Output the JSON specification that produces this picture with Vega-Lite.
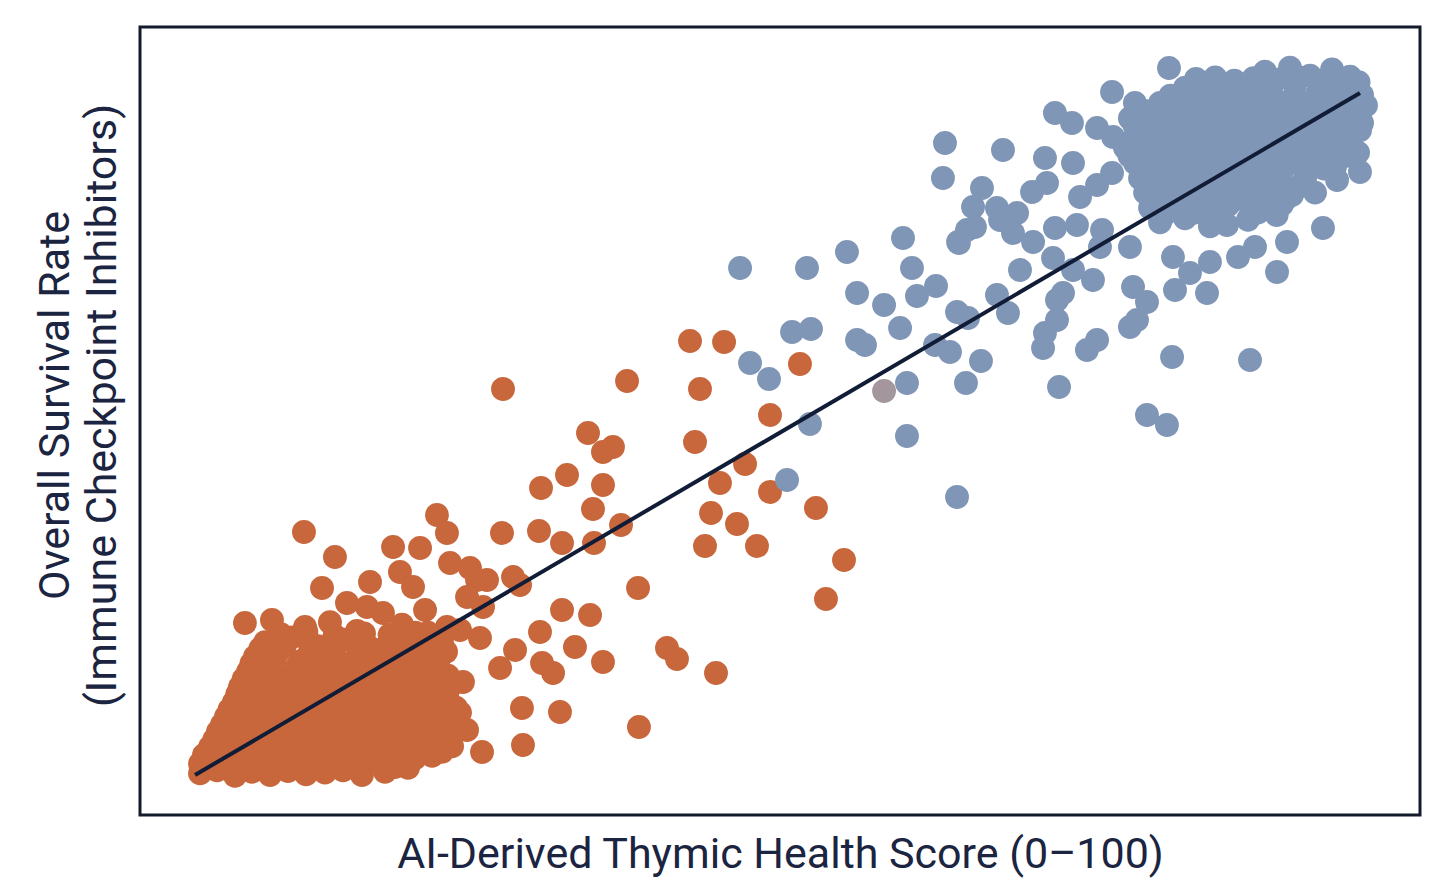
{
  "$schema": "https://vega.github.io/schema/vega-lite/v6.json",
  "width": 1280,
  "height": 788,
  "autosize": {"type": "none"},
  "padding": {"left": 140, "top": 27, "right": 36, "bottom": 77},
  "background": "#ffffff",
  "config": {
    "view": {"stroke": "#121a2c", "strokeWidth": 3},
    "font": "Roboto",
    "axis": {"grid": false, "labels": false, "ticks": false, "domain": false,
      "titleFont": "Roboto", "titleFontSize": 43, "titleFontWeight": "normal", "titleColor": "#1b2440"}
  },
  "datasets": {
    "patients": [
      {"score": 28.36, "survival": 53.25, "group": "Low"},
      {"score": 38.05, "survival": 54.25, "group": "Low"},
      {"score": 42.97, "survival": 59.25, "group": "Low"},
      {"score": 45.63, "survival": 59.13, "group": "Low"},
      {"score": 43.75, "survival": 53.25, "group": "Low"},
      {"score": 51.56, "survival": 56.38, "group": "Low"},
      {"score": 49.22, "survival": 50.0, "group": "Low"},
      {"score": 35.0, "survival": 47.75, "group": "Low"},
      {"score": 36.17, "survival": 45.38, "group": "Low"},
      {"score": 36.95, "survival": 46.0, "group": "Low"},
      {"score": 43.36, "survival": 46.63, "group": "Low"},
      {"score": 31.33, "survival": 40.88, "group": "Low"},
      {"score": 33.36, "survival": 42.5, "group": "Low"},
      {"score": 36.17, "survival": 41.25, "group": "Low"},
      {"score": 45.31, "survival": 41.5, "group": "Low"},
      {"score": 47.27, "survival": 43.88, "group": "Low"},
      {"score": 49.22, "survival": 40.38, "group": "Low"},
      {"score": 35.39, "survival": 38.25, "group": "Low"},
      {"score": 52.81, "survival": 38.38, "group": "Low"},
      {"score": 44.61, "survival": 37.75, "group": "Low"},
      {"score": 46.64, "survival": 36.38, "group": "Low"},
      {"score": 28.28, "survival": 35.25, "group": "Low"},
      {"score": 31.17, "survival": 35.5, "group": "Low"},
      {"score": 32.97, "survival": 34.0, "group": "Low"},
      {"score": 35.47, "survival": 34.0, "group": "Low"},
      {"score": 37.58, "survival": 36.25, "group": "Low"},
      {"score": 44.14, "survival": 33.63, "group": "Low"},
      {"score": 48.2, "survival": 33.63, "group": "Low"},
      {"score": 55.0, "survival": 31.88, "group": "Low"},
      {"score": 29.14, "survival": 29.75, "group": "Low"},
      {"score": 29.69, "survival": 28.75, "group": "Low"},
      {"score": 27.11, "survival": 29.38, "group": "Low"},
      {"score": 38.91, "survival": 28.38, "group": "Low"},
      {"score": 53.59, "survival": 27.0, "group": "Low"},
      {"score": 32.97, "survival": 25.63, "group": "Low"},
      {"score": 35.16, "survival": 25.0, "group": "Low"},
      {"score": 12.81, "survival": 35.38, "group": "Low"},
      {"score": 23.2, "survival": 37.5, "group": "Low"},
      {"score": 23.98, "survival": 35.25, "group": "Low"},
      {"score": 15.23, "survival": 32.25, "group": "Low"},
      {"score": 19.77, "survival": 33.5, "group": "Low"},
      {"score": 21.88, "survival": 33.38, "group": "Low"},
      {"score": 20.31, "survival": 30.38, "group": "Low"},
      {"score": 21.33, "survival": 28.5, "group": "Low"},
      {"score": 17.97, "survival": 29.13, "group": "Low"},
      {"score": 14.22, "survival": 28.38, "group": "Low"},
      {"score": 24.22, "survival": 31.5, "group": "Low"},
      {"score": 25.78, "survival": 30.88, "group": "Low"},
      {"score": 26.33, "survival": 29.38, "group": "Low"},
      {"score": 25.55, "survival": 27.25, "group": "Low"},
      {"score": 16.17, "survival": 26.5, "group": "Low"},
      {"score": 17.73, "survival": 26.0, "group": "Low"},
      {"score": 18.98, "survival": 25.25, "group": "Low"},
      {"score": 22.27, "survival": 25.63, "group": "Low"},
      {"score": 26.8, "survival": 26.0, "group": "Low"},
      {"score": 31.25, "survival": 22.88, "group": "Low"},
      {"score": 33.98, "survival": 21.0, "group": "Low"},
      {"score": 36.17, "survival": 19.13, "group": "Low"},
      {"score": 8.2, "survival": 24.0, "group": "Low"},
      {"score": 10.31, "survival": 24.38, "group": "Low"},
      {"score": 26.56, "survival": 22.13, "group": "Low"},
      {"score": 29.3, "survival": 20.63, "group": "Low"},
      {"score": 31.41, "survival": 19.0, "group": "Low"},
      {"score": 32.27, "survival": 17.75, "group": "Low"},
      {"score": 28.13, "survival": 18.38, "group": "Low"},
      {"score": 25.23, "survival": 16.63, "group": "Low"},
      {"score": 29.84, "survival": 13.38, "group": "Low"},
      {"score": 32.81, "survival": 12.88, "group": "Low"},
      {"score": 29.92, "survival": 8.75, "group": "Low"},
      {"score": 26.72, "survival": 7.88, "group": "Low"},
      {"score": 25.55, "survival": 10.63, "group": "Low"},
      {"score": 41.17, "survival": 20.88, "group": "Low"},
      {"score": 41.95, "survival": 19.5, "group": "Low"},
      {"score": 45.0, "survival": 17.75, "group": "Low"},
      {"score": 38.98, "survival": 11.0, "group": "Low"},
      {"score": 25.0, "survival": 23.13, "group": "Low"},
      {"score": 23.98, "survival": 23.5, "group": "Low"},

      {"score": 4.69, "survival": 5.2, "group": "Low"},
      {"score": 6.02, "survival": 5.6, "group": "Low"},
      {"score": 7.42, "survival": 4.9, "group": "Low"},
      {"score": 8.75, "survival": 5.4, "group": "Low"},
      {"score": 10.16, "survival": 5.0, "group": "Low"},
      {"score": 11.56, "survival": 5.5, "group": "Low"},
      {"score": 12.97, "survival": 5.1, "group": "Low"},
      {"score": 14.45, "survival": 5.3, "group": "Low"},
      {"score": 15.86, "survival": 5.6, "group": "Low"},
      {"score": 17.34, "survival": 5.0, "group": "Low"},
      {"score": 19.14, "survival": 5.4, "group": "Low"},
      {"score": 20.94, "survival": 5.9, "group": "Low"},

      {"score": 4.69, "survival": 6.4, "group": "Low"},
      {"score": 5.47, "survival": 7.2, "group": "Low"},
      {"score": 6.8, "survival": 6.1, "group": "Low"},
      {"score": 8.2, "survival": 6.9, "group": "Low"},
      {"score": 9.53, "survival": 6.0, "group": "Low"},
      {"score": 10.94, "survival": 7.1, "group": "Low"},
      {"score": 12.34, "survival": 6.4, "group": "Low"},
      {"score": 13.91, "survival": 6.6, "group": "Low"},
      {"score": 15.47, "survival": 7.2, "group": "Low"},
      {"score": 16.88, "survival": 6.1, "group": "Low"},
      {"score": 18.36, "survival": 6.9, "group": "Low"},
      {"score": 19.92, "survival": 6.0, "group": "Low"},
      {"score": 21.48, "survival": 7.1, "group": "Low"},
      {"score": 22.81, "survival": 7.4, "group": "Low"},

      {"score": 5.47, "survival": 8.5, "group": "Low"},
      {"score": 6.8, "survival": 9.1, "group": "Low"},
      {"score": 8.2, "survival": 8.0, "group": "Low"},
      {"score": 9.53, "survival": 8.8, "group": "Low"},
      {"score": 10.94, "survival": 7.9, "group": "Low"},
      {"score": 12.34, "survival": 9.0, "group": "Low"},
      {"score": 13.75, "survival": 8.3, "group": "Low"},
      {"score": 15.23, "survival": 8.5, "group": "Low"},
      {"score": 16.64, "survival": 9.1, "group": "Low"},
      {"score": 18.13, "survival": 8.0, "group": "Low"},
      {"score": 19.69, "survival": 8.8, "group": "Low"},
      {"score": 21.25, "survival": 7.9, "group": "Low"},
      {"score": 22.81, "survival": 9.0, "group": "Low"},
      {"score": 24.38, "survival": 8.6, "group": "Low"},

      {"score": 6.09, "survival": 10.4, "group": "Low"},
      {"score": 7.5, "survival": 11.0, "group": "Low"},
      {"score": 8.98, "survival": 9.9, "group": "Low"},
      {"score": 10.39, "survival": 10.7, "group": "Low"},
      {"score": 11.88, "survival": 9.7, "group": "Low"},
      {"score": 13.36, "survival": 10.9, "group": "Low"},
      {"score": 14.84, "survival": 10.2, "group": "Low"},
      {"score": 16.41, "survival": 10.4, "group": "Low"},
      {"score": 17.97, "survival": 11.0, "group": "Low"},
      {"score": 19.53, "survival": 9.9, "group": "Low"},
      {"score": 21.09, "survival": 10.7, "group": "Low"},
      {"score": 22.66, "survival": 9.7, "group": "Low"},
      {"score": 24.22, "survival": 10.9, "group": "Low"},

      {"score": 6.72, "survival": 12.3, "group": "Low"},
      {"score": 8.2, "survival": 12.9, "group": "Low"},
      {"score": 9.69, "survival": 11.8, "group": "Low"},
      {"score": 11.17, "survival": 12.6, "group": "Low"},
      {"score": 12.66, "survival": 11.6, "group": "Low"},
      {"score": 14.22, "survival": 12.8, "group": "Low"},
      {"score": 15.78, "survival": 12.1, "group": "Low"},
      {"score": 17.34, "survival": 12.3, "group": "Low"},
      {"score": 18.91, "survival": 12.9, "group": "Low"},
      {"score": 20.47, "survival": 11.8, "group": "Low"},
      {"score": 22.03, "survival": 12.6, "group": "Low"},
      {"score": 23.59, "survival": 11.6, "group": "Low"},
      {"score": 25.0, "survival": 12.8, "group": "Low"},

      {"score": 7.34, "survival": 14.1, "group": "Low"},
      {"score": 8.91, "survival": 14.7, "group": "Low"},
      {"score": 10.47, "survival": 13.6, "group": "Low"},
      {"score": 12.11, "survival": 14.4, "group": "Low"},
      {"score": 13.75, "survival": 13.4, "group": "Low"},
      {"score": 15.39, "survival": 14.6, "group": "Low"},
      {"score": 17.03, "survival": 13.9, "group": "Low"},
      {"score": 18.59, "survival": 14.1, "group": "Low"},
      {"score": 20.16, "survival": 14.7, "group": "Low"},
      {"score": 21.72, "survival": 13.6, "group": "Low"},
      {"score": 23.28, "survival": 14.4, "group": "Low"},
      {"score": 24.69, "survival": 13.4, "group": "Low"},

      {"score": 7.81, "survival": 16.0, "group": "Low"},
      {"score": 9.38, "survival": 16.6, "group": "Low"},
      {"score": 11.02, "survival": 15.5, "group": "Low"},
      {"score": 12.73, "survival": 16.3, "group": "Low"},
      {"score": 14.45, "survival": 15.3, "group": "Low"},
      {"score": 16.17, "survival": 16.5, "group": "Low"},
      {"score": 17.89, "survival": 15.8, "group": "Low"},
      {"score": 19.61, "survival": 16.0, "group": "Low"},
      {"score": 21.33, "survival": 16.6, "group": "Low"},
      {"score": 23.05, "survival": 15.5, "group": "Low"},
      {"score": 24.38, "survival": 16.3, "group": "Low"},

      {"score": 8.44, "survival": 17.9, "group": "Low"},
      {"score": 10.16, "survival": 18.5, "group": "Low"},
      {"score": 11.88, "survival": 17.4, "group": "Low"},
      {"score": 13.67, "survival": 18.2, "group": "Low"},
      {"score": 15.47, "survival": 17.2, "group": "Low"},
      {"score": 17.19, "survival": 18.4, "group": "Low"},
      {"score": 18.98, "survival": 17.7, "group": "Low"},
      {"score": 20.78, "survival": 17.9, "group": "Low"},
      {"score": 22.5, "survival": 18.5, "group": "Low"},
      {"score": 24.06, "survival": 17.4, "group": "Low"},

      {"score": 8.98, "survival": 19.8, "group": "Low"},
      {"score": 10.78, "survival": 20.4, "group": "Low"},
      {"score": 12.66, "survival": 19.3, "group": "Low"},
      {"score": 14.61, "survival": 20.1, "group": "Low"},
      {"score": 16.56, "survival": 19.1, "group": "Low"},
      {"score": 18.44, "survival": 20.3, "group": "Low"},
      {"score": 20.31, "survival": 19.6, "group": "Low"},
      {"score": 22.19, "survival": 19.8, "group": "Low"},
      {"score": 23.91, "survival": 20.4, "group": "Low"},

      {"score": 9.77, "survival": 21.6, "group": "Low"},
      {"score": 11.88, "survival": 22.2, "group": "Low"},
      {"score": 13.91, "survival": 21.1, "group": "Low"},
      {"score": 15.94, "survival": 21.9, "group": "Low"},
      {"score": 17.97, "survival": 20.9, "group": "Low"},
      {"score": 20.0, "survival": 22.1, "group": "Low"},
      {"score": 21.88, "survival": 21.4, "group": "Low"},
      {"score": 23.59, "survival": 21.6, "group": "Low"},

      {"score": 12.89, "survival": 23.5, "group": "Low"},
      {"score": 14.84, "survival": 24.1, "group": "Low"},
      {"score": 16.95, "survival": 23.0, "group": "Low"},
      {"score": 20.47, "survival": 23.8, "group": "Low"},
      {"score": 22.5, "survival": 22.8, "group": "Low"},

      {"score": 5.0, "survival": 7.5, "group": "Low"},
      {"score": 6.4, "survival": 7.8, "group": "Low"},
      {"score": 7.8, "survival": 7.3, "group": "Low"},
      {"score": 9.2, "survival": 7.6, "group": "Low"},
      {"score": 10.6, "survival": 7.2, "group": "Low"},
      {"score": 12.0, "survival": 7.7, "group": "Low"},
      {"score": 13.4, "survival": 7.4, "group": "Low"},
      {"score": 14.9, "survival": 7.6, "group": "Low"},
      {"score": 16.3, "survival": 7.3, "group": "Low"},
      {"score": 17.7, "survival": 7.7, "group": "Low"},
      {"score": 19.2, "survival": 7.4, "group": "Low"},
      {"score": 20.7, "survival": 7.6, "group": "Low"},
      {"score": 22.2, "survival": 8.1, "group": "Low"},
      {"score": 23.6, "survival": 7.9, "group": "Low"},

      {"score": 5.8, "survival": 9.4, "group": "Low"},
      {"score": 7.2, "survival": 9.7, "group": "Low"},
      {"score": 8.6, "survival": 9.2, "group": "Low"},
      {"score": 10.0, "survival": 9.5, "group": "Low"},
      {"score": 11.5, "survival": 9.1, "group": "Low"},
      {"score": 13.0, "survival": 9.6, "group": "Low"},
      {"score": 14.5, "survival": 9.3, "group": "Low"},
      {"score": 16.0, "survival": 9.5, "group": "Low"},
      {"score": 17.5, "survival": 9.2, "group": "Low"},
      {"score": 19.0, "survival": 9.6, "group": "Low"},
      {"score": 20.6, "survival": 9.3, "group": "Low"},
      {"score": 22.2, "survival": 9.5, "group": "Low"},
      {"score": 23.6, "survival": 9.8, "group": "Low"},

      {"score": 6.4, "survival": 11.3, "group": "Low"},
      {"score": 7.9, "survival": 11.6, "group": "Low"},
      {"score": 9.3, "survival": 11.1, "group": "Low"},
      {"score": 10.8, "survival": 11.4, "group": "Low"},
      {"score": 12.3, "survival": 11.0, "group": "Low"},
      {"score": 13.8, "survival": 11.5, "group": "Low"},
      {"score": 15.3, "survival": 11.2, "group": "Low"},
      {"score": 16.9, "survival": 11.4, "group": "Low"},
      {"score": 18.5, "survival": 11.1, "group": "Low"},
      {"score": 20.0, "survival": 11.5, "group": "Low"},
      {"score": 21.6, "survival": 11.2, "group": "Low"},
      {"score": 23.1, "survival": 11.4, "group": "Low"},
      {"score": 24.5, "survival": 11.7, "group": "Low"},

      {"score": 7.0, "survival": 13.2, "group": "Low"},
      {"score": 8.5, "survival": 13.5, "group": "Low"},
      {"score": 10.1, "survival": 13.0, "group": "Low"},
      {"score": 11.6, "survival": 13.3, "group": "Low"},
      {"score": 13.2, "survival": 12.9, "group": "Low"},
      {"score": 14.8, "survival": 13.4, "group": "Low"},
      {"score": 16.4, "survival": 13.1, "group": "Low"},
      {"score": 18.0, "survival": 13.3, "group": "Low"},
      {"score": 19.6, "survival": 13.0, "group": "Low"},
      {"score": 21.2, "survival": 13.4, "group": "Low"},
      {"score": 22.8, "survival": 13.1, "group": "Low"},
      {"score": 24.3, "survival": 13.6, "group": "Low"},

      {"score": 7.6, "survival": 15.1, "group": "Low"},
      {"score": 9.2, "survival": 15.4, "group": "Low"},
      {"score": 10.8, "survival": 14.9, "group": "Low"},
      {"score": 12.4, "survival": 15.2, "group": "Low"},
      {"score": 14.1, "survival": 14.8, "group": "Low"},
      {"score": 15.8, "survival": 15.3, "group": "Low"},
      {"score": 17.5, "survival": 15.0, "group": "Low"},
      {"score": 19.2, "survival": 15.2, "group": "Low"},
      {"score": 20.9, "survival": 14.9, "group": "Low"},
      {"score": 22.6, "survival": 15.3, "group": "Low"},
      {"score": 24.0, "survival": 15.0, "group": "Low"},

      {"score": 8.1, "survival": 17.0, "group": "Low"},
      {"score": 9.8, "survival": 17.3, "group": "Low"},
      {"score": 11.5, "survival": 16.8, "group": "Low"},
      {"score": 13.2, "survival": 17.1, "group": "Low"},
      {"score": 15.0, "survival": 16.7, "group": "Low"},
      {"score": 16.8, "survival": 17.2, "group": "Low"},
      {"score": 18.5, "survival": 16.9, "group": "Low"},
      {"score": 20.3, "survival": 17.1, "group": "Low"},
      {"score": 22.0, "survival": 16.8, "group": "Low"},
      {"score": 23.6, "survival": 17.2, "group": "Low"},

      {"score": 8.7, "survival": 18.9, "group": "Low"},
      {"score": 10.5, "survival": 19.2, "group": "Low"},
      {"score": 12.3, "survival": 18.7, "group": "Low"},
      {"score": 14.2, "survival": 19.0, "group": "Low"},
      {"score": 16.0, "survival": 18.6, "group": "Low"},
      {"score": 17.9, "survival": 19.1, "group": "Low"},
      {"score": 19.8, "survival": 18.8, "group": "Low"},
      {"score": 21.6, "survival": 19.0, "group": "Low"},
      {"score": 23.3, "survival": 18.7, "group": "Low"},

      {"score": 9.4, "survival": 20.8, "group": "Low"},
      {"score": 11.3, "survival": 21.1, "group": "Low"},
      {"score": 13.3, "survival": 20.6, "group": "Low"},
      {"score": 15.2, "survival": 20.9, "group": "Low"},
      {"score": 17.2, "survival": 20.5, "group": "Low"},
      {"score": 19.2, "survival": 21.0, "group": "Low"},
      {"score": 21.0, "survival": 20.7, "group": "Low"},
      {"score": 22.8, "survival": 20.9, "group": "Low"},

      {"score": 11.0, "survival": 22.6, "group": "Low"},
      {"score": 13.0, "survival": 22.9, "group": "Low"},
      {"score": 15.2, "survival": 22.4, "group": "Low"},
      {"score": 17.5, "survival": 22.7, "group": "Low"},
      {"score": 19.5, "survival": 22.5, "group": "Low"},
      {"score": 21.5, "survival": 22.8, "group": "Low"},

      {"score": 46.88, "survival": 68.38, "group": "High"},
      {"score": 52.11, "survival": 68.38, "group": "High"},
      {"score": 55.23, "survival": 70.38, "group": "High"},
      {"score": 59.61, "survival": 72.13, "group": "High"},
      {"score": 60.31, "survival": 68.38, "group": "High"},
      {"score": 56.02, "survival": 65.25, "group": "High"},
      {"score": 58.13, "survival": 63.75, "group": "High"},
      {"score": 60.7, "survival": 64.88, "group": "High"},
      {"score": 62.19, "survival": 66.13, "group": "High"},
      {"score": 63.98, "survival": 71.5, "group": "High"},
      {"score": 65.23, "survival": 73.5, "group": "High"},
      {"score": 67.19, "survival": 74.38, "group": "High"},
      {"score": 68.2, "survival": 72.75, "group": "High"},
      {"score": 69.77, "survival": 71.63, "group": "High"},
      {"score": 71.48, "survival": 73.38, "group": "High"},
      {"score": 71.33, "survival": 69.63, "group": "High"},
      {"score": 68.75, "survival": 68.13, "group": "High"},
      {"score": 72.11, "survival": 65.25, "group": "High"},
      {"score": 66.95, "survival": 65.0, "group": "High"},
      {"score": 67.81, "survival": 62.75, "group": "High"},
      {"score": 63.83, "survival": 62.88, "group": "High"},
      {"score": 64.69, "survival": 62.13, "group": "High"},
      {"score": 71.64, "survival": 61.88, "group": "High"},
      {"score": 70.7, "survival": 60.25, "group": "High"},
      {"score": 70.55, "survival": 58.38, "group": "High"},
      {"score": 72.89, "survival": 68.13, "group": "High"},
      {"score": 50.94, "survival": 60.38, "group": "High"},
      {"score": 52.42, "survival": 60.75, "group": "High"},
      {"score": 56.02, "survival": 59.38, "group": "High"},
      {"score": 56.64, "survival": 58.75, "group": "High"},
      {"score": 59.38, "survival": 60.88, "group": "High"},
      {"score": 62.11, "survival": 58.75, "group": "High"},
      {"score": 63.28, "survival": 57.88, "group": "High"},
      {"score": 65.7, "survival": 56.75, "group": "High"},
      {"score": 64.53, "survival": 54.0, "group": "High"},
      {"score": 59.92, "survival": 54.0, "group": "High"},
      {"score": 58.13, "survival": 53.0, "group": "Borderline"},
      {"score": 71.8, "survival": 53.5, "group": "High"},
      {"score": 47.66, "survival": 56.5, "group": "High"},
      {"score": 49.14, "survival": 54.5, "group": "High"},
      {"score": 52.34, "survival": 48.88, "group": "High"},
      {"score": 59.92, "survival": 47.38, "group": "High"},
      {"score": 50.55, "survival": 41.88, "group": "High"},
      {"score": 63.83, "survival": 39.75, "group": "High"},
      {"score": 80.39, "survival": 93.38, "group": "High"},
      {"score": 75.94, "survival": 90.38, "group": "High"},
      {"score": 71.48, "survival": 87.75, "group": "High"},
      {"score": 72.81, "survival": 86.5, "group": "High"},
      {"score": 74.77, "survival": 85.88, "group": "High"},
      {"score": 77.73, "survival": 89.0, "group": "High"},
      {"score": 62.89, "survival": 84.0, "group": "High"},
      {"score": 62.73, "survival": 79.63, "group": "High"},
      {"score": 67.42, "survival": 83.13, "group": "High"},
      {"score": 70.7, "survival": 82.13, "group": "High"},
      {"score": 72.89, "survival": 81.5, "group": "High"},
      {"score": 76.02, "survival": 84.75, "group": "High"},
      {"score": 75.94, "survival": 80.25, "group": "High"},
      {"score": 65.78, "survival": 78.38, "group": "High"},
      {"score": 69.69, "survival": 77.88, "group": "High"},
      {"score": 70.86, "survival": 79.0, "group": "High"},
      {"score": 73.44, "survival": 77.25, "group": "High"},
      {"score": 74.77, "survival": 78.75, "group": "High"},
      {"score": 65.08, "survival": 76.0, "group": "High"},
      {"score": 66.95, "survival": 75.88, "group": "High"},
      {"score": 68.52, "survival": 75.25, "group": "High"},
      {"score": 63.91, "survival": 71.63, "group": "High"},
      {"score": 64.61, "survival": 73.13, "group": "High"},
      {"score": 73.2, "survival": 73.75, "group": "High"},
      {"score": 75.16, "survival": 73.13, "group": "High"},
      {"score": 75.0, "survival": 71.0, "group": "High"},
      {"score": 74.45, "survival": 66.88, "group": "High"},
      {"score": 77.34, "survival": 71.0, "group": "High"},
      {"score": 77.58, "survival": 66.0, "group": "High"},
      {"score": 78.67, "survival": 64.13, "group": "High"},
      {"score": 77.34, "survival": 61.0, "group": "High"},
      {"score": 77.89, "survival": 61.88, "group": "High"},
      {"score": 74.77, "survival": 59.38, "group": "High"},
      {"score": 73.98, "survival": 58.13, "group": "High"},
      {"score": 71.64, "survival": 64.38, "group": "High"},
      {"score": 80.7, "survival": 69.75, "group": "High"},
      {"score": 82.03, "survival": 67.75, "group": "High"},
      {"score": 80.86, "survival": 65.63, "group": "High"},
      {"score": 83.36, "survival": 65.25, "group": "High"},
      {"score": 80.63, "survival": 57.25, "group": "High"},
      {"score": 86.72, "survival": 56.88, "group": "High"},
      {"score": 88.83, "survival": 67.88, "group": "High"},
      {"score": 85.78, "survival": 69.75, "group": "High"},
      {"score": 87.11, "survival": 71.0, "group": "High"},
      {"score": 89.61, "survival": 71.63, "group": "High"},
      {"score": 92.42, "survival": 73.38, "group": "High"},
      {"score": 84.92, "survival": 73.75, "group": "High"},
      {"score": 93.52, "survival": 79.38, "group": "High"},
      {"score": 95.31, "survival": 80.38, "group": "High"},
      {"score": 78.67, "survival": 50.0, "group": "High"},
      {"score": 80.23, "survival": 48.75, "group": "High"},
      {"score": 83.59, "survival": 69.13, "group": "High"},

      {"score": 87.89, "survival": 92.9, "group": "High"},
      {"score": 89.84, "survival": 93.4, "group": "High"},
      {"score": 91.41, "survival": 92.4, "group": "High"},
      {"score": 93.13, "survival": 93.2, "group": "High"},
      {"score": 94.53, "survival": 92.3, "group": "High"},

      {"score": 81.64, "survival": 90.9, "group": "High"},
      {"score": 83.2, "survival": 91.4, "group": "High"},
      {"score": 84.77, "survival": 90.4, "group": "High"},
      {"score": 86.33, "survival": 91.2, "group": "High"},
      {"score": 88.28, "survival": 90.3, "group": "High"},
      {"score": 90.23, "survival": 91.3, "group": "High"},
      {"score": 92.19, "survival": 90.7, "group": "High"},
      {"score": 94.14, "survival": 91.0, "group": "High"},
      {"score": 95.47, "survival": 90.0, "group": "High"},

      {"score": 79.69, "survival": 89.0, "group": "High"},
      {"score": 81.25, "survival": 89.5, "group": "High"},
      {"score": 82.81, "survival": 88.5, "group": "High"},
      {"score": 84.38, "survival": 89.3, "group": "High"},
      {"score": 85.94, "survival": 88.4, "group": "High"},
      {"score": 87.5, "survival": 89.4, "group": "High"},
      {"score": 89.22, "survival": 88.8, "group": "High"},
      {"score": 91.02, "survival": 89.0, "group": "High"},
      {"score": 92.81, "survival": 89.5, "group": "High"},
      {"score": 94.53, "survival": 88.5, "group": "High"},
      {"score": 95.78, "survival": 88.7, "group": "High"},

      {"score": 77.34, "survival": 87.1, "group": "High"},
      {"score": 78.91, "survival": 87.6, "group": "High"},
      {"score": 80.47, "survival": 86.6, "group": "High"},
      {"score": 82.19, "survival": 87.4, "group": "High"},
      {"score": 83.75, "survival": 86.5, "group": "High"},
      {"score": 85.31, "survival": 87.5, "group": "High"},
      {"score": 87.11, "survival": 86.9, "group": "High"},
      {"score": 88.67, "survival": 87.1, "group": "High"},
      {"score": 90.47, "survival": 87.6, "group": "High"},
      {"score": 92.19, "survival": 86.6, "group": "High"},
      {"score": 93.91, "survival": 87.4, "group": "High"},
      {"score": 95.47, "survival": 86.5, "group": "High"},

      {"score": 78.13, "survival": 85.3, "group": "High"},
      {"score": 80.08, "survival": 85.8, "group": "High"},
      {"score": 81.88, "survival": 84.8, "group": "High"},
      {"score": 83.44, "survival": 85.6, "group": "High"},
      {"score": 85.16, "survival": 84.7, "group": "High"},
      {"score": 86.72, "survival": 85.7, "group": "High"},
      {"score": 88.44, "survival": 85.0, "group": "High"},
      {"score": 90.23, "survival": 85.3, "group": "High"},
      {"score": 92.03, "survival": 85.8, "group": "High"},
      {"score": 93.75, "survival": 84.8, "group": "High"},
      {"score": 95.31, "survival": 85.6, "group": "High"},

      {"score": 76.95, "survival": 83.4, "group": "High"},
      {"score": 78.52, "survival": 83.9, "group": "High"},
      {"score": 80.08, "survival": 82.9, "group": "High"},
      {"score": 81.64, "survival": 83.7, "group": "High"},
      {"score": 83.2, "survival": 82.8, "group": "High"},
      {"score": 84.77, "survival": 83.8, "group": "High"},
      {"score": 86.56, "survival": 83.1, "group": "High"},
      {"score": 88.28, "survival": 83.4, "group": "High"},
      {"score": 90.0, "survival": 83.9, "group": "High"},
      {"score": 91.8, "survival": 82.9, "group": "High"},
      {"score": 93.59, "survival": 83.7, "group": "High"},
      {"score": 95.16, "survival": 82.8, "group": "High"},

      {"score": 77.73, "survival": 81.5, "group": "High"},
      {"score": 79.3, "survival": 82.0, "group": "High"},
      {"score": 81.09, "survival": 81.0, "group": "High"},
      {"score": 82.81, "survival": 81.8, "group": "High"},
      {"score": 84.53, "survival": 80.9, "group": "High"},
      {"score": 86.33, "survival": 81.9, "group": "High"},
      {"score": 88.13, "survival": 81.2, "group": "High"},
      {"score": 89.84, "survival": 81.5, "group": "High"},
      {"score": 91.56, "survival": 82.0, "group": "High"},
      {"score": 93.36, "survival": 81.0, "group": "High"},

      {"score": 78.13, "survival": 79.6, "group": "High"},
      {"score": 79.84, "survival": 80.1, "group": "High"},
      {"score": 81.64, "survival": 79.1, "group": "High"},
      {"score": 83.44, "survival": 79.9, "group": "High"},
      {"score": 85.31, "survival": 79.0, "group": "High"},
      {"score": 87.11, "survival": 80.0, "group": "High"},
      {"score": 89.06, "survival": 79.3, "group": "High"},
      {"score": 91.02, "survival": 79.6, "group": "High"},

      {"score": 78.52, "survival": 77.8, "group": "High"},
      {"score": 80.31, "survival": 78.3, "group": "High"},
      {"score": 82.19, "survival": 77.3, "group": "High"},
      {"score": 84.22, "survival": 78.1, "group": "High"},
      {"score": 86.09, "survival": 77.2, "group": "High"},
      {"score": 88.13, "survival": 78.2, "group": "High"},
      {"score": 90.0, "survival": 77.5, "group": "High"},
      {"score": 91.8, "survival": 77.8, "group": "High"},

      {"score": 78.91, "survival": 75.9, "group": "High"},
      {"score": 80.86, "survival": 76.4, "group": "High"},
      {"score": 82.81, "survival": 75.4, "group": "High"},
      {"score": 85.0, "survival": 76.2, "group": "High"},
      {"score": 87.34, "survival": 75.3, "group": "High"},
      {"score": 89.22, "survival": 76.3, "group": "High"},

      {"score": 79.69, "survival": 74.1, "group": "High"},
      {"score": 81.64, "survival": 74.6, "group": "High"},
      {"score": 83.59, "survival": 73.6, "group": "High"},
      {"score": 86.56, "survival": 74.4, "group": "High"},

      {"score": 82.5, "survival": 92.0, "group": "High"},
      {"score": 84.0, "survival": 92.2, "group": "High"},
      {"score": 85.5, "survival": 91.8, "group": "High"},
      {"score": 87.0, "survival": 92.1, "group": "High"},
      {"score": 88.8, "survival": 91.9, "group": "High"},
      {"score": 90.6, "survival": 92.2, "group": "High"},
      {"score": 92.4, "survival": 91.8, "group": "High"},
      {"score": 94.0, "survival": 92.0, "group": "High"},
      {"score": 95.2, "survival": 91.6, "group": "High"},

      {"score": 80.5, "survival": 89.9, "group": "High"},
      {"score": 82.0, "survival": 90.1, "group": "High"},
      {"score": 83.6, "survival": 89.7, "group": "High"},
      {"score": 85.2, "survival": 90.0, "group": "High"},
      {"score": 86.8, "survival": 89.8, "group": "High"},
      {"score": 88.4, "survival": 90.1, "group": "High"},
      {"score": 90.1, "survival": 89.7, "group": "High"},
      {"score": 91.9, "survival": 90.0, "group": "High"},
      {"score": 93.7, "survival": 89.8, "group": "High"},
      {"score": 95.2, "survival": 89.6, "group": "High"},

      {"score": 78.5, "survival": 88.0, "group": "High"},
      {"score": 80.0, "survival": 88.2, "group": "High"},
      {"score": 81.6, "survival": 87.8, "group": "High"},
      {"score": 83.0, "survival": 88.1, "group": "High"},
      {"score": 84.8, "survival": 87.9, "group": "High"},
      {"score": 86.4, "survival": 88.2, "group": "High"},
      {"score": 88.0, "survival": 87.8, "group": "High"},
      {"score": 89.8, "survival": 88.0, "group": "High"},
      {"score": 91.6, "survival": 88.2, "group": "High"},
      {"score": 93.4, "survival": 87.9, "group": "High"},
      {"score": 95.0, "survival": 88.0, "group": "High"},

      {"score": 77.7, "survival": 86.2, "group": "High"},
      {"score": 79.3, "survival": 86.4, "group": "High"},
      {"score": 81.0, "survival": 86.0, "group": "High"},
      {"score": 82.8, "survival": 86.3, "group": "High"},
      {"score": 84.5, "survival": 86.1, "group": "High"},
      {"score": 86.0, "survival": 86.4, "group": "High"},
      {"score": 87.8, "survival": 86.0, "group": "High"},
      {"score": 89.5, "survival": 86.2, "group": "High"},
      {"score": 91.3, "survival": 86.4, "group": "High"},
      {"score": 93.0, "survival": 86.1, "group": "High"},
      {"score": 94.7, "survival": 86.2, "group": "High"},

      {"score": 77.5, "survival": 84.3, "group": "High"},
      {"score": 79.3, "survival": 84.5, "group": "High"},
      {"score": 81.0, "survival": 84.1, "group": "High"},
      {"score": 82.6, "survival": 84.4, "group": "High"},
      {"score": 84.2, "survival": 84.2, "group": "High"},
      {"score": 85.8, "survival": 84.5, "group": "High"},
      {"score": 87.5, "survival": 84.1, "group": "High"},
      {"score": 89.2, "survival": 84.3, "group": "High"},
      {"score": 91.0, "survival": 84.5, "group": "High"},
      {"score": 92.8, "survival": 84.2, "group": "High"},
      {"score": 94.5, "survival": 84.3, "group": "High"},

      {"score": 77.3, "survival": 82.4, "group": "High"},
      {"score": 79.0, "survival": 82.6, "group": "High"},
      {"score": 80.6, "survival": 82.2, "group": "High"},
      {"score": 82.3, "survival": 82.5, "group": "High"},
      {"score": 84.0, "survival": 82.3, "group": "High"},
      {"score": 85.5, "survival": 82.6, "group": "High"},
      {"score": 87.3, "survival": 82.2, "group": "High"},
      {"score": 89.0, "survival": 82.4, "group": "High"},
      {"score": 90.8, "survival": 82.6, "group": "High"},
      {"score": 92.6, "survival": 82.3, "group": "High"},
      {"score": 94.3, "survival": 82.4, "group": "High"},

      {"score": 78.5, "survival": 80.6, "group": "High"},
      {"score": 80.3, "survival": 80.8, "group": "High"},
      {"score": 82.0, "survival": 80.4, "group": "High"},
      {"score": 83.7, "survival": 80.7, "group": "High"},
      {"score": 85.5, "survival": 80.5, "group": "High"},
      {"score": 87.3, "survival": 80.8, "group": "High"},
      {"score": 89.2, "survival": 80.4, "group": "High"},
      {"score": 91.0, "survival": 80.6, "group": "High"},
      {"score": 92.5, "survival": 80.8, "group": "High"},

      {"score": 79.0, "survival": 78.7, "group": "High"},
      {"score": 80.8, "survival": 78.9, "group": "High"},
      {"score": 82.7, "survival": 78.5, "group": "High"},
      {"score": 84.6, "survival": 78.8, "group": "High"},
      {"score": 86.5, "survival": 78.6, "group": "High"},
      {"score": 88.5, "survival": 78.9, "group": "High"},
      {"score": 90.5, "survival": 78.5, "group": "High"},

      {"score": 79.5, "survival": 76.8, "group": "High"},
      {"score": 81.5, "survival": 77.0, "group": "High"},
      {"score": 83.5, "survival": 76.6, "group": "High"},
      {"score": 85.5, "survival": 76.9, "group": "High"},
      {"score": 87.7, "survival": 76.7, "group": "High"},
      {"score": 89.5, "survival": 77.0, "group": "High"},

      {"score": 80.0, "survival": 75.0, "group": "High"},
      {"score": 82.2, "survival": 75.2, "group": "High"},
      {"score": 84.5, "survival": 74.8, "group": "High"},
      {"score": 86.8, "survival": 75.1, "group": "High"},
      {"score": 88.8, "survival": 75.0, "group": "High"}
    ],
    "fit": [
      {"score": 4.3, "survival": 5.0},
      {"score": 95.31, "survival": 90.25}
    ]
  },
  "layer": [
    {
      "data": {"name": "patients"},
      "mark": {"type": "circle", "size": 570, "opacity": 1},
      "encoding": {
        "x": {"field": "score", "type": "quantitative", "scale": {"domain": [0, 100], "nice": false, "zero": false},
          "axis": {"title": "AI-Derived Thymic Health Score (0–100)", "titlePadding": 18}},
        "y": {"field": "survival", "type": "quantitative", "scale": {"domain": [0, 98.5], "nice": false, "zero": false},
          "axis": {"title": ["Overall Survival Rate", "(Immune Checkpoint Inhibitors)"], "titlePadding": 16, "titleLineHeight": 47, "titleY": 378}},
        "color": {"field": "group", "type": "nominal",
          "scale": {"domain": ["Low", "High", "Borderline"], "range": ["#C8663C", "#8096B7", "#A3979D"]},
          "legend": null}
      }
    },
    {
      "data": {"name": "fit"},
      "mark": {"type": "line", "color": "#111c36", "strokeWidth": 4},
      "encoding": {
        "x": {"field": "score", "type": "quantitative", "scale": {"domain": [0, 100], "nice": false, "zero": false}},
        "y": {"field": "survival", "type": "quantitative", "scale": {"domain": [0, 98.5], "nice": false, "zero": false}}
      }
    }
  ]
}
